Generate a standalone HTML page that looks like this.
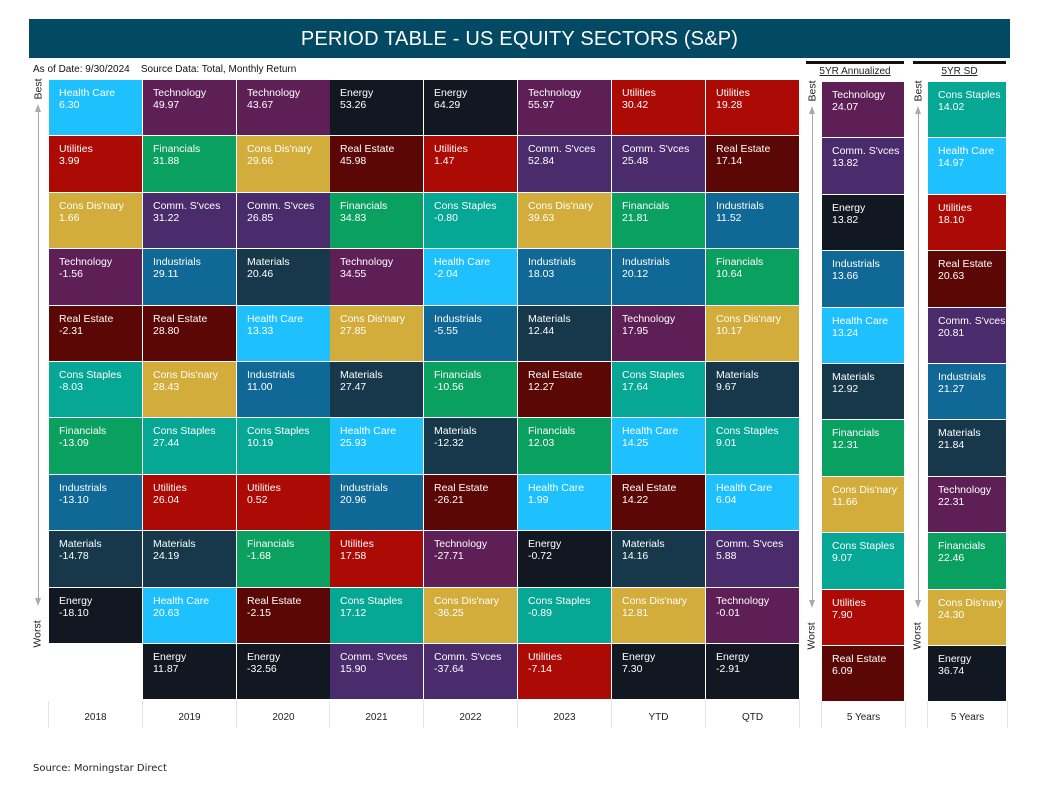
<!DOCTYPE html><html><head><meta charset="utf-8"><style>
body{margin:0;width:1042px;height:797px;background:#fff;position:relative;font-family:"Liberation Sans",sans-serif;overflow:hidden}
.a{position:absolute}
.col{position:absolute;top:80px;width:93px}
.c{height:55.4px;margin-bottom:1px;color:#fff;font-size:10.5px;line-height:12px;padding:7px 0 0 10px;box-sizing:border-box}
.hc{background:#1ec1fe}.te{background:#5e1f56}.ut{background:#ab0a05}.fi{background:#0aa160}.cd{background:#d3ad3b}.cm{background:#4a2b6b}.en{background:#111821}.re{background:#5b0706}.st{background:#06a895}.in{background:#0f6895}.ma{background:#17384a}.em{background:#fff}
.yr{position:absolute;top:701px;height:27px;width:93px;text-align:center;font-size:10px;line-height:34px;color:#222;border-left:1px solid #e4e4e4}
.v{position:absolute;transform:rotate(-90deg);font-size:10.5px;color:#222;transform-origin:center}
.ar{position:absolute;width:1px;background:#aaa}
.up{position:absolute;width:0;height:0;border-left:3px solid transparent;border-right:3px solid transparent;border-bottom:8px solid #aaa}
.dn{position:absolute;width:0;height:0;border-left:3px solid transparent;border-right:3px solid transparent;border-top:8px solid #aaa}
</style></head><body>
<div class="a" style="left:29px;top:19px;width:981px;height:39px;background:#024a63;color:#fff;font-size:20px;line-height:40px;text-align:center;letter-spacing:.2px">PERIOD TABLE - US EQUITY SECTORS (S&amp;P)</div>
<div class="a" style="left:33px;top:64px;font-size:10px;color:#111">As of Date: 9/30/2024 &nbsp;&nbsp;&nbsp;Source Data: Total, Monthly Return</div>
<div class="a" style="left:806px;top:61px;width:98px;height:3px;background:#111"></div>
<div class="a" style="left:913px;top:61px;width:93px;height:3px;background:#111"></div>
<div class="a" style="left:806px;top:66px;width:98px;text-align:center;font-size:10px;text-decoration:underline;color:#222">5YR Annualized</div>
<div class="a" style="left:913px;top:66px;width:93px;text-align:center;font-size:10px;text-decoration:underline;color:#222">5YR SD</div>

<div class="v" style="left:28px;top:83px">Best</div><div class="up" style="left:35px;top:104px"></div><div class="ar" style="left:38px;top:110px;height:490px"></div><div class="dn" style="left:35px;top:598px"></div><div class="v" style="left:24px;top:628px">Worst</div>
<div class="v" style="left:802px;top:85px">Best</div><div class="up" style="left:809px;top:106px"></div><div class="ar" style="left:812px;top:112px;height:490px"></div><div class="dn" style="left:809px;top:600px"></div><div class="v" style="left:798px;top:630px">Worst</div>
<div class="v" style="left:908px;top:85px">Best</div><div class="up" style="left:915px;top:106px"></div><div class="ar" style="left:918px;top:112px;height:490px"></div><div class="dn" style="left:915px;top:600px"></div><div class="v" style="left:904px;top:630px">Worst</div>

<div class="col" style="left:49px">
<div class="c hc">Health Care<br>6.30</div><div class="c ut">Utilities<br>3.99</div><div class="c cd">Cons Dis'nary<br>1.66</div><div class="c te">Technology<br>-1.56</div><div class="c re">Real Estate<br>-2.31</div><div class="c st">Cons Staples<br>-8.03</div><div class="c fi">Financials<br>-13.09</div><div class="c in">Industrials<br>-13.10</div><div class="c ma">Materials<br>-14.78</div><div class="c en">Energy<br>-18.10</div><div class="c em"></div></div>
<div class="col" style="left:143px">
<div class="c te">Technology<br>49.97</div><div class="c fi">Financials<br>31.88</div><div class="c cm">Comm. S'vces<br>31.22</div><div class="c in">Industrials<br>29.11</div><div class="c re">Real Estate<br>28.80</div><div class="c cd">Cons Dis'nary<br>28.43</div><div class="c st">Cons Staples<br>27.44</div><div class="c ut">Utilities<br>26.04</div><div class="c ma">Materials<br>24.19</div><div class="c hc">Health Care<br>20.63</div><div class="c en">Energy<br>11.87</div></div>
<div class="col" style="left:237px">
<div class="c te">Technology<br>43.67</div><div class="c cd">Cons Dis'nary<br>29.66</div><div class="c cm">Comm. S'vces<br>26.85</div><div class="c ma">Materials<br>20.46</div><div class="c hc">Health Care<br>13.33</div><div class="c in">Industrials<br>11.00</div><div class="c st">Cons Staples<br>10.19</div><div class="c ut">Utilities<br>0.52</div><div class="c fi">Financials<br>-1.68</div><div class="c re">Real Estate<br>-2.15</div><div class="c en">Energy<br>-32.56</div></div>
<div class="col" style="left:330px">
<div class="c en">Energy<br>53.26</div><div class="c re">Real Estate<br>45.98</div><div class="c fi">Financials<br>34.83</div><div class="c te">Technology<br>34.55</div><div class="c cd">Cons Dis'nary<br>27.85</div><div class="c ma">Materials<br>27.47</div><div class="c hc">Health Care<br>25.93</div><div class="c in">Industrials<br>20.96</div><div class="c ut">Utilities<br>17.58</div><div class="c st">Cons Staples<br>17.12</div><div class="c cm">Comm. S'vces<br>15.90</div></div>
<div class="col" style="left:424px">
<div class="c en">Energy<br>64.29</div><div class="c ut">Utilities<br>1.47</div><div class="c st">Cons Staples<br>-0.80</div><div class="c hc">Health Care<br>-2.04</div><div class="c in">Industrials<br>-5.55</div><div class="c fi">Financials<br>-10.56</div><div class="c ma">Materials<br>-12.32</div><div class="c re">Real Estate<br>-26.21</div><div class="c te">Technology<br>-27.71</div><div class="c cd">Cons Dis'nary<br>-36.25</div><div class="c cm">Comm. S'vces<br>-37.64</div></div>
<div class="col" style="left:518px">
<div class="c te">Technology<br>55.97</div><div class="c cm">Comm. S'vces<br>52.84</div><div class="c cd">Cons Dis'nary<br>39.63</div><div class="c in">Industrials<br>18.03</div><div class="c ma">Materials<br>12.44</div><div class="c re">Real Estate<br>12.27</div><div class="c fi">Financials<br>12.03</div><div class="c hc">Health Care<br>1.99</div><div class="c en">Energy<br>-0.72</div><div class="c st">Cons Staples<br>-0.89</div><div class="c ut">Utilities<br>-7.14</div></div>
<div class="col" style="left:612px">
<div class="c ut">Utilities<br>30.42</div><div class="c cm">Comm. S'vces<br>25.48</div><div class="c fi">Financials<br>21.81</div><div class="c in">Industrials<br>20.12</div><div class="c te">Technology<br>17.95</div><div class="c st">Cons Staples<br>17.64</div><div class="c hc">Health Care<br>14.25</div><div class="c re">Real Estate<br>14.22</div><div class="c ma">Materials<br>14.16</div><div class="c cd">Cons Dis'nary<br>12.81</div><div class="c en">Energy<br>7.30</div></div>
<div class="col" style="left:706px">
<div class="c ut">Utilities<br>19.28</div><div class="c re">Real Estate<br>17.14</div><div class="c in">Industrials<br>11.52</div><div class="c fi">Financials<br>10.64</div><div class="c cd">Cons Dis'nary<br>10.17</div><div class="c ma">Materials<br>9.67</div><div class="c st">Cons Staples<br>9.01</div><div class="c hc">Health Care<br>6.04</div><div class="c cm">Comm. S'vces<br>5.88</div><div class="c te">Technology<br>-0.01</div><div class="c en">Energy<br>-2.91</div></div>
<div class="col" style="left:822px;top:82px;width:82px">
<div class="c te">Technology<br>24.07</div><div class="c cm">Comm. S'vces<br>13.82</div><div class="c en">Energy<br>13.82</div><div class="c in">Industrials<br>13.66</div><div class="c hc">Health Care<br>13.24</div><div class="c ma">Materials<br>12.92</div><div class="c fi">Financials<br>12.31</div><div class="c cd">Cons Dis'nary<br>11.66</div><div class="c st">Cons Staples<br>9.07</div><div class="c ut">Utilities<br>7.90</div><div class="c re">Real Estate<br>6.09</div></div>
<div class="col" style="left:928px;top:82px;width:78px">
<div class="c st">Cons Staples<br>14.02</div><div class="c hc">Health Care<br>14.97</div><div class="c ut">Utilities<br>18.10</div><div class="c re">Real Estate<br>20.63</div><div class="c cm">Comm. S'vces<br>20.81</div><div class="c in">Industrials<br>21.27</div><div class="c ma">Materials<br>21.84</div><div class="c te">Technology<br>22.31</div><div class="c fi">Financials<br>22.46</div><div class="c cd">Cons Dis'nary<br>24.30</div><div class="c en">Energy<br>36.74</div></div>

<div class="yr" style="left:48px">2018</div><div class="yr" style="left:142px">2019</div><div class="yr" style="left:236px">2020</div><div class="yr" style="left:329px">2021</div><div class="yr" style="left:423px">2022</div><div class="yr" style="left:517px">2023</div><div class="yr" style="left:611px">YTD</div><div class="yr" style="left:705px;border-right:1px solid #e4e4e4">QTD</div>
<div class="yr" style="left:821px;width:83px;border-right:1px solid #e4e4e4">5 Years</div>
<div class="yr" style="left:927px;width:79px;border-right:1px solid #e4e4e4">5 Years</div>
<div class="a" style="left:33px;top:763px;font-family:'DejaVu Sans',sans-serif;font-size:10px;color:#222">Source: Morningstar Direct</div>
</body></html>
